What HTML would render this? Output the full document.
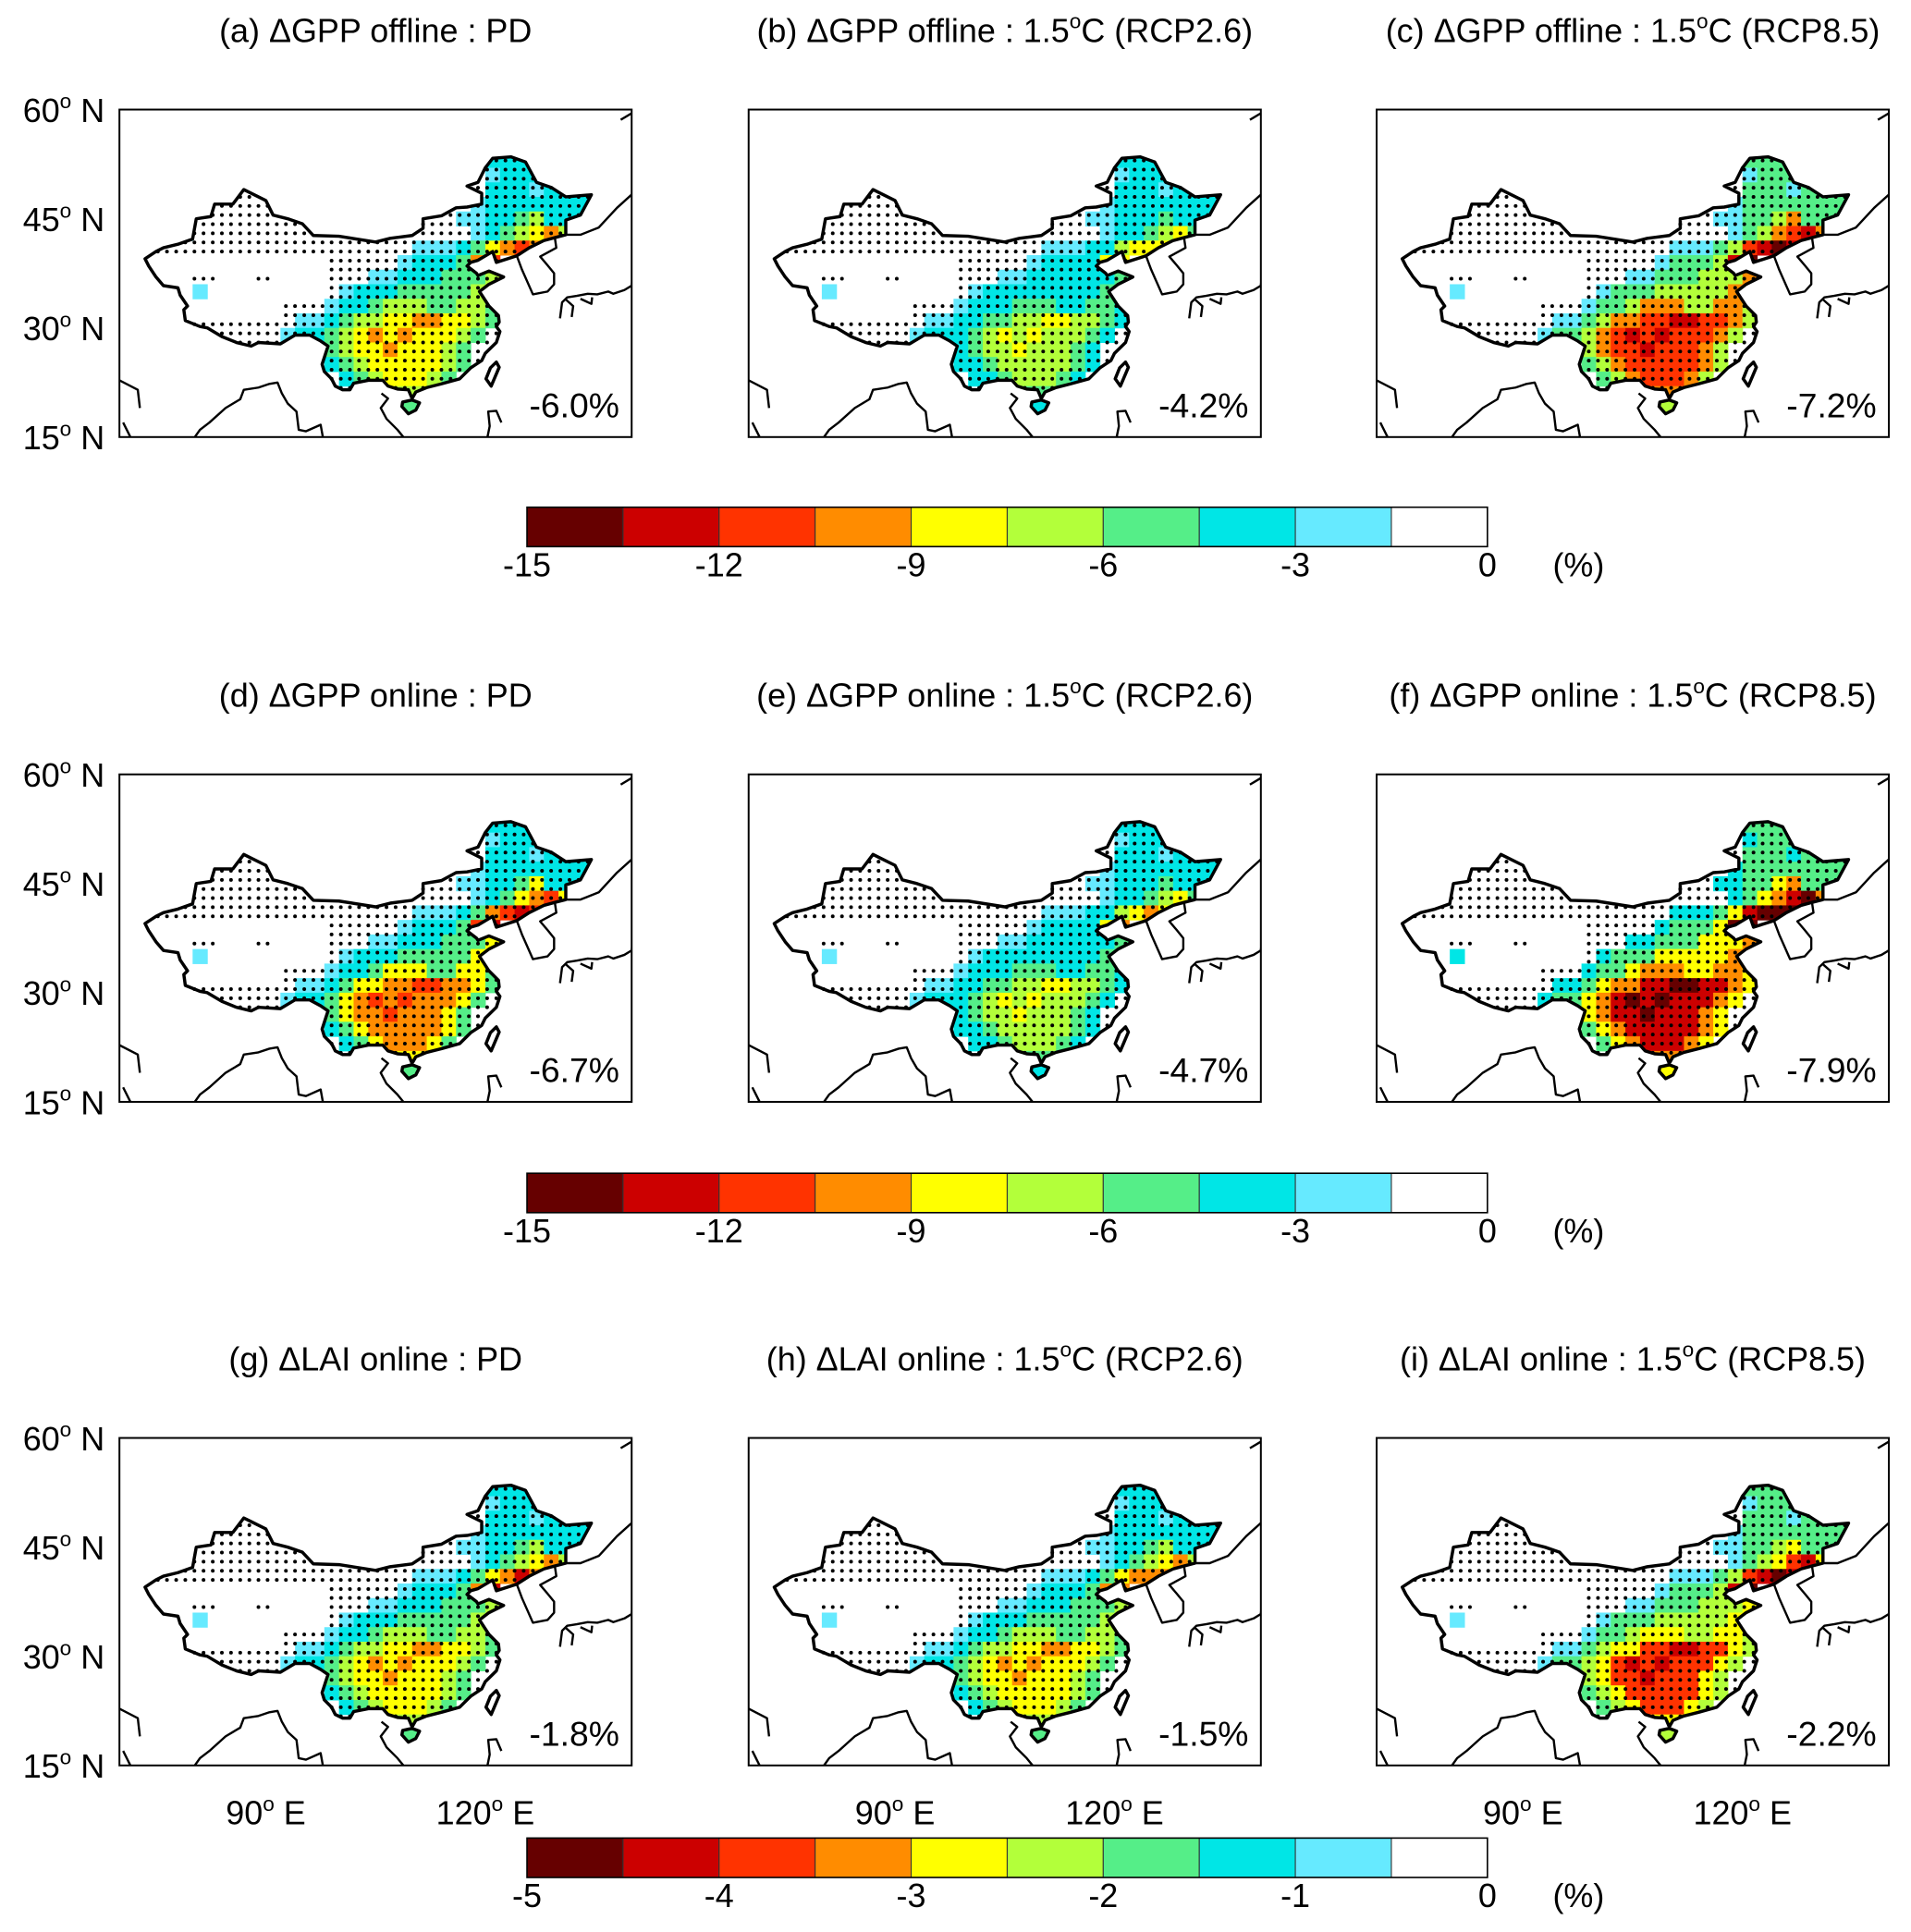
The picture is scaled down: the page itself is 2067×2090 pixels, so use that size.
<!DOCTYPE html>
<html><head><meta charset="utf-8"><style>
html,body{margin:0;padding:0;background:#fff}
svg{display:block}
text{font-family:"Liberation Sans",Arial,sans-serif;fill:#000}
</style></head><body>
<svg id="fig" xmlns="http://www.w3.org/2000/svg" width="2067" height="2090" viewBox="0 0 1552 1569.3" preserveAspectRatio="none">
<defs>
<clipPath id="frameclip"><rect x="0" y="0" width="416" height="266"/></clipPath>
<clipPath id="chinaclip"><path id="chinaclippath" d=""/></clipPath>
</defs>
</svg>
<script>
// ---- data ----
const titles = ["(a) \u0394GPP offline : PD","(b) \u0394GPP offline : 1.5","(c) \u0394GPP offline : 1.5",
"(d) \u0394GPP online : PD","(e) \u0394GPP online : 1.5","(f) \u0394GPP online : 1.5",
"(g) \u0394LAI online : PD","(h) \u0394LAI online : 1.5","(i) \u0394LAI online : 1.5"];
const titleSuffix = ["","(RCP2.6)","(RCP8.5)","","(RCP2.6)","(RCP8.5)","","(RCP2.6)","(RCP8.5)"];
const meanValues = ["-6.0%","-4.2%","-7.2%","-6.7%","-4.7%","-7.9%","-1.8%","-1.5%","-2.2%"];
const levelShift = [0,-1,1.5,0.5,-0.8,2,0.3,-0.3,1.2];
const latTicks = [60,45,30,15];
const lonTicks = [90,120];
const cbColors = ["#660000","#cc0000","#ff3300","#ff8c00","#ffff00","#b3ff3a","#55ee88","#00e6e6","#66eaff","#ffffff"];
const cbLabelsGPP = ["-15","-12","-9","-6","-3","0"];
const cbLabelsLAI = ["-5","-4","-3","-2","-1","0"];
// base intensity grid (level 0-9), 2-degree cells, lon 72..136, rows from lat 54 down to 18
const gridLon0 = 72, gridLat0 = 54;
const baseGrid = [
"000000000000000000000000222000000",
"000000000000000000000000122200000",
"000000000000000000000000222122000",
"000000000000000000000001222222220",
"000000000000000000000011223422200",
"001100000000000000000001234564200",
"000000000000000000011123567600000",
"000000000000000000122236700000000",
"000000000000000011222333400000000",
"000010000000001222333334000000000",
"000000000000012234443344300000000",
"000000000001123445566554300000000",
"000000000012234565655543000000000",
"000000000562234556555430000000000",
"000000000000023455555430000000000",
"000000000000002345554300000000000",
"000000000000000034443000000000000",
"000000000000000000330000000000000"
];
// ---- geography ----
const china = [[73.5,39.5],[75,40.5],[76,41],[78,41.5],[80,42.2],[80.5,45],[82.5,45.3],[83,47],[85.5,47],[87,49],[88,48.5],[90,47.5],[91,45.5],[93,45],[95,44.3],[96.5,42.7],[100,42.6],[105,41.8],[107,42.3],[110,42.7],[111.5,43.7],[111.5,45],[114,45.4],[116,46.5],[117.5,46.6],[119.5,47],[119.5,48.5],[117.5,49.5],[119,50],[120,52],[121,53.3],[123.5,53.5],[125.5,52.8],[127,50],[129,49.3],[131,48],[134.5,48.3],[133,45.5],[131,44.8],[131,42.8],[129.5,42.4],[128,42],[126,41],[124.3,39.9],[121.5,39],[121,40.5],[119,39.3],[118,39],[117.5,38.5],[118.8,37.5],[119,37.2],[120.5,37.8],[122.5,37],[120.5,36],[119.2,35],[120.5,33],[121.8,31.7],[121.9,30.8],[121.5,30.2],[122,29.5],[121.5,28],[120,26.5],[119.5,25.5],[118,24.5],[116.5,23],[114,22.3],[112,21.8],[110.5,21.2],[110,20.3],[109.5,21.5],[108,21.6],[106.7,22],[106,22.8],[104,22.8],[102,22.4],[101.5,21.5],[100.5,21.5],[99.5,22],[99,23],[98,24],[97.7,25],[98.5,27.5],[97.5,28.2],[96,29],[94,29],[92,27.8],[89,28],[88,27.5],[86,28],[84,28.8],[82,30],[81,30.2],[79,31],[78.8,32.5],[79.3,33],[78.3,34.5],[78,35.5],[76,35.8],[75,37],[74,38.5]];
const hainan = [[108.6,19.2],[109.5,18.2],[110.5,18.7],[111,19.7],[110,20.1],[108.7,19.8]];
const taiwan = [[120.1,23],[120.8,22],[121.9,24.6],[121.5,25.3],[120.7,24.5]];
const coastLines = [
[[124.3,39.9],[125,38],[126.5,34.6],[128.5,35],[129.4,36],[129.4,37.5],[128.5,38.6],[127.5,39.8],[129.7,41],[129.5,42.4]],
[[129.5,42.4],[131,42.8],[133,42.8],[135.5,43.8],[138,46.5],[140.2,48.5],[140.8,51.5],[141,53.5]],
[[142,53],[142.5,51],[143,49],[142,46],[141.8,47.5],[142.2,50]],
[[130.2,31.3],[130.5,33.5],[131.2,34.2],[132.5,34.4],[134,34.7],[135.3,34.6],[136.8,35],[137.5,34.7],[139,35.2],[140,35.8],[140.2,37.5]],
[[131.8,31.5],[132,33],[131,33.9]],
[[133,34],[134.5,33.3],[134.6,34.2]],
[[138.5,58.6],[140,59.5],[141.5,60]],
[[70,22.8],[72.5,21.5],[72.8,19]],
[[71.5,15],[70.5,17]],
[[80.3,15],[81,16],[82.3,17],[84.5,19],[86.5,20.2],[87,21.5],[89,21.8],[90.5,22.3],[91.6,22.5],[92.2,21],[93,19.6],[94.2,18.5],[94.5,16],[95.5,15.8],[97.5,16.7],[97.8,15]],
[[105.8,21],[106.7,20.3],[105.7,19],[106.5,17.5],[108,16],[108.8,15]],
[[120.3,15],[120.6,16.5],[120.4,18.5],[121.5,18.6],[122.2,17]]
];
const frameW = 416, frameH = 266;
const colX = [97,608,1118], rowY = [89,629,1168];
const NS = "http://www.w3.org/2000/svg";
const svg = document.getElementById('fig');
function lx(lon){return (lon-70)/70*frameW;}
function ly(lat){return (60-lat)/45*frameH;}
function mk(tag, attrs, parent){const e=document.createElementNS(NS,tag);for(const k in attrs)e.setAttribute(k,attrs[k]);(parent||svg).appendChild(e);return e;}
function pathOf(pts,close){return pts.map((p,i)=>(i?'L':'M')+lx(p[0]).toFixed(1)+' '+ly(p[1]).toFixed(1)).join(' ')+(close?' Z':'');}
const chinaD = pathOf(china,true)+' '+pathOf(hainan,true)+' '+pathOf(taiwan,true);
document.getElementById('chinaclippath').setAttribute('d',chinaD);
function inPoly(x,y,poly){let c=false;for(let i=0,j=poly.length-1;i<poly.length;j=i++){const xi=poly[i][0],yi=poly[i][1],xj=poly[j][0],yj=poly[j][1];if(((yi>y)!=(yj>y))&&(x<(xj-xi)*(y-yi)/(yj-yi)+xi))c=!c;}return c;}
function stippled(lon,lat){ if(lon<80 && lat<37) return false; if(lon<98 && lat<40 && lat>31) return (lon>92&&lat<34)||(lat>36.5&&lat<37.5&&(lon<84||(lon>88&&lon<91))); return true;}

for(let p=0;p<9;p++){
  const r=Math.floor(p/3), c=p%3, x0=colX[c], y0=rowY[r];
  const g=mk('g',{transform:`translate(${x0},${y0})`});
  
  
  const t=mk('text',{x:frameW/2,y:-55,'text-anchor':'middle','font-size':27},g);
  
  
  t.textContent=titles[p];
  if(titleSuffix[p]){const s=mk('tspan',{'font-size':17,dy:-11},t);s.textContent='o';const s2=mk('tspan',{dy:11},t);s2.textContent='C '+titleSuffix[p];}
  const inner=mk('g',{'clip-path':'url(#frameclip)'},g);
  const cells=mk('g',{'clip-path':'url(#chinaclip)'},inner);
  
  
  baseGrid.forEach((row,ri)=>{
    for(let ci=0;ci<row.length;ci++){
      const b=+row[ci]; if(!b) continue;
      let lvl=Math.round(b+levelShift[p]*(b/4)); lvl=Math.max(1,Math.min(9,lvl));
      const lon=gridLon0+ci*2, lat=gridLat0-ri*2;
      const rc=mk('rect',{x:lx(lon).toFixed(2),y:ly(lat).toFixed(2),width:(lx(lon+2)-lx(lon)+0.4).toFixed(2),height:(ly(lat-2)-ly(lat)+0.4).toFixed(2),fill:cbColors[9-lvl]},cells);
      
      
    }
  });
  const dots=mk('g',{fill:'#000'},inner);
  
  
  for(let lat=53;lat>18.5;lat-=1.25){for(let lon=74;lon<135;lon+=1.25){
    if(inPoly(lon,lat,china)&&stippled(lon,lat)) mk('circle',{cx:lx(lon).toFixed(1),cy:ly(lat).toFixed(1),r:1.5},dots);
  }}
  const cl=mk('g',{fill:'none',stroke:'#000','stroke-width':1.8,'stroke-linejoin':'round'},inner);
  
  
  coastLines.forEach(l=>mk('path',{d:pathOf(l,false)},cl));
  const cb=mk('path',{d:chinaD,fill:'none',stroke:'#000','stroke-width':2.6,'stroke-linejoin':'round'},inner);
  
  
  const fr=mk('rect',{x:0,y:0,width:frameW,height:frameH,fill:'none',stroke:'#000','stroke-width':1.5},g);
  
  
  const mv=mk('text',{x:frameW-10,y:frameH-16,'text-anchor':'end','font-size':28},g);
  
  
  mv.textContent=meanValues[p];
  if(c===0){
    latTicks.forEach(v=>{
      const lt=mk('text',{x:-12,y:ly(v)+10,'text-anchor':'end','font-size':27},g);
      
      
      lt.appendChild(document.createTextNode(v));
      const o=mk('tspan',{'font-size':17,dy:-11},lt);o.textContent='o';
      const n=mk('tspan',{dy:11},lt);n.textContent=' N';
    });
  }
  if(r===2){
    lonTicks.forEach(v=>{
      const lt=mk('text',{x:lx(v),y:frameH+48,'text-anchor':'middle','font-size':27},g);
      
      
      lt.appendChild(document.createTextNode(v));
      const o=mk('tspan',{'font-size':17,dy:-11},lt);o.textContent='o';
      const n=mk('tspan',{dy:11},lt);n.textContent=' E';
    });
  }
}
const cbY=[412,953,1493];
cbY.forEach((y,i)=>{
  const g=mk('g',{});
  
  
  const w=78;
  cbColors.forEach((col,k)=>{
    const rr=mk('rect',{x:428+k*w,y:y,width:w,height:32,fill:col,stroke:'#333','stroke-width':0.8},g);
    
    
  });
  mk('rect',{x:428,y:y,width:780,height:32,fill:'none',stroke:'#000','stroke-width':1.2},g);
  const labs=i<2?cbLabelsGPP:cbLabelsLAI;
  labs.forEach((s,k)=>{
    const tx=mk('text',{x:428+k*2*w,y:y+56,'text-anchor':'middle','font-size':27},g);
    
    
    tx.textContent=s;
  });
  const u=mk('text',{x:1282,y:y+56,'text-anchor':'middle','font-size':27},g);
  
  
  u.textContent='(%)';
});
</script>
</body></html>
